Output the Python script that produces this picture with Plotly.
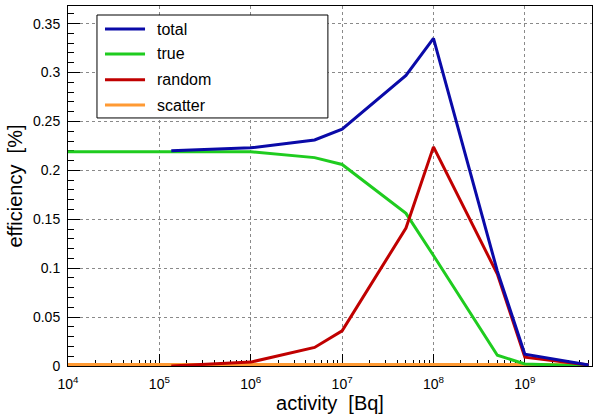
import plotly.graph_objects as go

# ---- data ----
names = ["total", "true", "random", "scatter"]
colors = ["#0a0aa8", "#1fcc1f", "#c00000", "#ff9a33"]

x_total = [1.35e5, 1e6, 5e6, 1e7, 5e7, 1e8, 5e8, 1e9, 5e9]
y_total = [0.220, 0.223, 0.231, 0.242, 0.297, 0.335, 0.097, 0.012, 0.001]

x_true = [1e4, 1e5, 1e6, 5e6, 1e7, 5e7, 1e8, 5e8, 1e9, 5e9]
y_true = [0.219, 0.219, 0.219, 0.213, 0.206, 0.156, 0.113, 0.011, 0.002, 0.0]

x_random = [1.35e5, 1e6, 5e6, 1e7, 5e7, 1e8, 5e8, 1e9, 5e9]
y_random = [0.0, 0.004, 0.019, 0.036, 0.141, 0.224, 0.094, 0.009, 0.001]

x_scatter = [1e4, 1e5, 1e6, 5e6, 1e7, 5e7, 1e8, 5e8, 1e9, 5e9]
y_scatter = [0.0, 0.0, 0.0, 0.0, 0.0, 0.0, 0.0, 0.0, 0.0, 0.0]

x_tickvals = [1e4, 1e5, 1e6, 1e7, 1e8, 1e9]
x_ticktext = ["10<sup>4</sup>", "10<sup>5</sup>", "10<sup>6</sup>",
              "10<sup>7</sup>", "10<sup>8</sup>", "10<sup>9</sup>"]
y_tickvals = [0, 0.05, 0.1, 0.15, 0.2, 0.25, 0.3, 0.35]
y_ticktext = ["0", "0.05", "0.1", "0.15", "0.2", "0.25", "0.3", "0.35"]

series_x = [x_total, x_true, x_random, x_scatter]
series_y = [y_total, y_true, y_random, y_scatter]

minor_x = [m * 10 ** e for e in range(4, 10) for m in range(2, 10) if m * 10 ** e <= 5.4e9]

FONT = "Liberation Sans, Arial, sans-serif"

fig = go.Figure()
order = [3, 1, 2, 0]
for i in order:
    fig.add_trace(go.Scatter(
        x=series_x[i], y=series_y[i], mode="lines", name=names[i],
        line=dict(color=colors[i], width=6 if i == 3 else 3), showlegend=False,
    ))

fig.update_xaxes(
    type="log", range=[4, 9.735],
    tickmode="array", tickvals=x_tickvals, ticktext=x_ticktext,
    ticks="inside", ticklen=12, tickcolor="black", tickwidth=1,
    minor=dict(tickmode="array", tickvals=minor_x, ticks="inside", ticklen=6,
               tickcolor="black", showgrid=False),
    showgrid=True, gridcolor="#8a8a8a", griddash="dot", gridwidth=1,
    showline=True, linecolor="black", linewidth=1, mirror=True,
    zeroline=False, layer="below traces",
    tickfont=dict(family=FONT, size=14, color="black"),
    ticklabelstandoff=5,
    title=dict(text="activity  [Bq]", font=dict(family=FONT, size=20, color="black"),
               standoff=0),
)
fig.update_yaxes(
    range=[0, 0.368],
    tickmode="array", tickvals=y_tickvals, ticktext=y_ticktext,
    ticks="inside", ticklen=12, tickcolor="black", tickwidth=1,
    minor=dict(dtick=0.01, tick0=0, ticks="inside", ticklen=6,
               tickcolor="black", showgrid=False),
    showgrid=True, gridcolor="#8a8a8a", griddash="dot", gridwidth=1,
    showline=True, linecolor="black", linewidth=1, mirror=True,
    zeroline=False, layer="below traces",
    tickfont=dict(family=FONT, size=14, color="black"),
    ticklabelstandoff=4,
    title=dict(text="efficiency  [%]", font=dict(family=FONT, size=20, color="black"),
               standoff=4),
)

# manual legend box (ROOT style)
lx0, lx1, ly0, ly1 = 0.0553, 0.496, 0.689, 0.975
fig.add_shape(type="rect", xref="paper", yref="paper", x0=lx0, x1=lx1, y0=ly0, y1=ly1,
              line=dict(color="black", width=1), fillcolor="white", layer="above")
rows = [0.936, 0.867, 0.795, 0.725]
for i, ry in enumerate(rows):
    fig.add_shape(type="line", xref="paper", yref="paper", x0=0.0706, x1=0.147,
                  y0=ry, y1=ry, line=dict(color=colors[i], width=3), layer="above")
    fig.add_annotation(xref="paper", yref="paper", x=0.166, y=ry, text=names[i],
                       showarrow=False, xanchor="left", yanchor="middle",
                       font=dict(family=FONT, size=16, color="black"))

fig.update_layout(
    width=600, height=415,
    margin=dict(l=68, r=8, t=6, b=49, autoexpand=False),
    paper_bgcolor="white", plot_bgcolor="white",
    font=dict(family=FONT, color="black"),
    showlegend=False,
)

fig.write_html("out.html", config={"displayModeBar": False},
               post_script="document.body.style.margin='0';document.body.style.overflow='hidden';")
